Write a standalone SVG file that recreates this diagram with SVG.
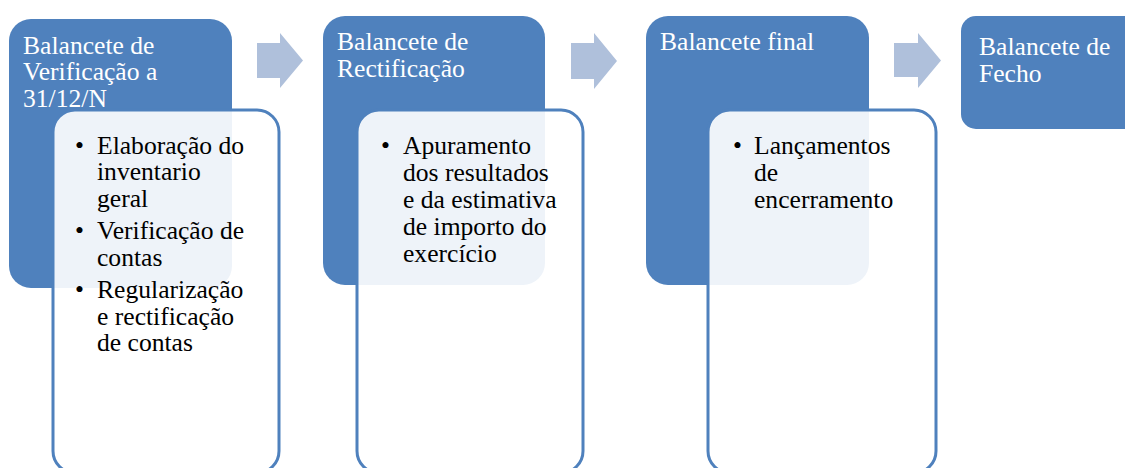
<svg xmlns="http://www.w3.org/2000/svg" width="1125" height="468" viewBox="0 0 1125 468">
<style>
.blue{fill:#4F81BD;}
.card{fill:#FFFFFF;fill-opacity:0.9;stroke:#4F81BD;stroke-width:3;}
.arrow{fill:#AFC0DB;}
.title{font-family:"Liberation Serif","Times New Roman",serif;font-size:25.6px;fill:#FFFFFF;}
.body{font-family:"Liberation Serif","Times New Roman",serif;font-size:25.6px;fill:#000000;}
</style>
<rect width="1125" height="468" fill="#FFFFFF"/>
<g id="connectors">
<polygon class="arrow" points="257,43 280,43 280,33 303,60.5 280,88 280,78 257,78"/>
<polygon class="arrow" points="571,43 594,43 594,33 617,61 594,89 594,79 571,79"/>
<polygon class="arrow" points="894,43 918,43 918,33 941,60.5 918,88 918,77 894,77"/>
</g>
<g id="node1">
<rect class="blue" x="9" y="19" width="223" height="269" rx="22" ry="22"/>
<text class="title" x="23" y="53.5">Balancete de</text>
<text class="title" x="23" y="80">Verificação a</text>
<text class="title" x="23" y="107">31/12/N</text>
</g>
<g id="detail1">
<rect class="card" x="53" y="110" width="226" height="363" rx="22" ry="22"/>
<text class="body" x="75" y="153.5">•</text>
<text class="body" x="97" y="153.5">Elaboração do</text>
<text class="body" x="97" y="180">inventario</text>
<text class="body" x="97" y="206.5">geral</text>
<text class="body" x="75" y="239">•</text>
<text class="body" x="97" y="239">Verificação de</text>
<text class="body" x="97" y="265.5">contas</text>
<text class="body" x="75" y="298">•</text>
<text class="body" x="97" y="298">Regularização</text>
<text class="body" x="97" y="324.5">e rectificação</text>
<text class="body" x="97" y="351">de contas</text>
</g>
<g id="node2">
<rect class="blue" x="323" y="16" width="222" height="269" rx="22" ry="22"/>
<text class="title" x="337" y="50">Balancete de</text>
<text class="title" x="337" y="77">Rectificação</text>
</g>
<g id="detail2">
<rect class="card" x="357" y="110" width="226" height="363" rx="22" ry="22"/>
<text class="body" x="381" y="154">•</text>
<text class="body" x="403" y="154">Apuramento</text>
<text class="body" x="403" y="181">dos resultados</text>
<text class="body" x="403" y="208">e da estimativa</text>
<text class="body" x="403" y="235">de importo do</text>
<text class="body" x="403" y="262">exercício</text>
</g>
<g id="node3">
<rect class="blue" x="646" y="16" width="223" height="269" rx="22" ry="22"/>
<text class="title" x="660" y="50">Balancete final</text>
</g>
<g id="detail3">
<rect class="card" x="708" y="110" width="228" height="363" rx="22" ry="22"/>
<text class="body" x="733" y="154">•</text>
<text class="body" x="754" y="154">Lançamentos</text>
<text class="body" x="754" y="181">de</text>
<text class="body" x="754" y="208">encerramento</text>
</g>
<g id="node4">
<rect class="blue" x="961" y="16" width="222" height="113" rx="15" ry="15"/>
<text class="title" x="979" y="55">Balancete de</text>
<text class="title" x="979" y="82">Fecho</text>
</g>
</svg>
